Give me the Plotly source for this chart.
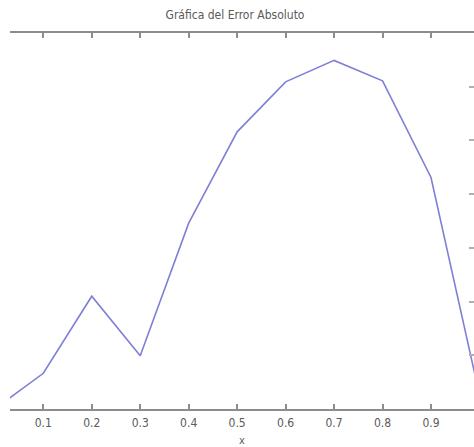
import plotly.graph_objects as go

# Data
x_vals = [0.0, 0.1, 0.2, 0.3, 0.4, 0.5, 0.6, 0.7, 0.8, 0.9, 1.0]
error_vals = [0.0, 0.665, 2.10, 0.99, 3.46, 5.16, 6.09, 6.49, 6.11, 4.31, 0.26]
x_ticks = [0.1, 0.2, 0.3, 0.4, 0.5, 0.6, 0.7, 0.8, 0.9]
x_tick_labels = ["0.1", "0.2", "0.3", "0.4", "0.5", "0.6", "0.7", "0.8", "0.9"]
y_ticks = [1, 2, 3, 4, 5, 6]

FONT = "Liberation Sans Narrow, DejaVu Sans Condensed, Liberation Sans, sans-serif"
AXIS_COLOR = "#8c8c8c"
TEXT_COLOR = "#5a5a5a"

W, H = 474, 447

fig = go.Figure()
fig.add_trace(go.Scatter(
    x=x_vals, y=error_vals, mode="lines",
    line=dict(color="#7f7fd6", width=1.6),
    showlegend=False, hoverinfo="skip",
))

fig.update_layout(
    width=W, height=H,
    margin=dict(l=10, r=0, t=33, b=38),
    paper_bgcolor="white", plot_bgcolor="white",
    title=dict(
        text="Gráfica del Error Absoluto",
        x=235 / W, xanchor="center", xref="container",
        y=1 - 15 / H, yanchor="middle", yref="container",
        font=dict(family=FONT, size=12, color=TEXT_COLOR),
    ),
    xaxis=dict(
        range=[0.0313, 0.9887],
        tickmode="array", tickvals=x_ticks, ticktext=x_tick_labels,
        ticks="inside", ticklen=5, tickwidth=1.5, tickcolor=AXIS_COLOR,
        showline=True, linecolor=AXIS_COLOR, linewidth=2, mirror="ticks",
        showgrid=False, zeroline=False,
        ticklabelstandoff=2,
        tickfont=dict(family=FONT, size=12, color=TEXT_COLOR),
        title=dict(text="x", standoff=8,
                   font=dict(family=FONT, size=11, color=TEXT_COLOR)),
    ),
    yaxis=dict(
        range=[0, 7],
        side="right",
        tickmode="array", tickvals=y_ticks,
        ticks="inside", ticklen=5, tickwidth=1.5, tickcolor="#b0b0b0",
        showticklabels=False,
        showline=False, showgrid=False, zeroline=False,
    ),
)

# remove the default 8px page margin so the figure fills the window exactly
page_css = "document.body.style.margin='0';document.body.style.overflow='hidden';"
fig.write_html("out.html", post_script=page_css, config={"displayModeBar": False})
